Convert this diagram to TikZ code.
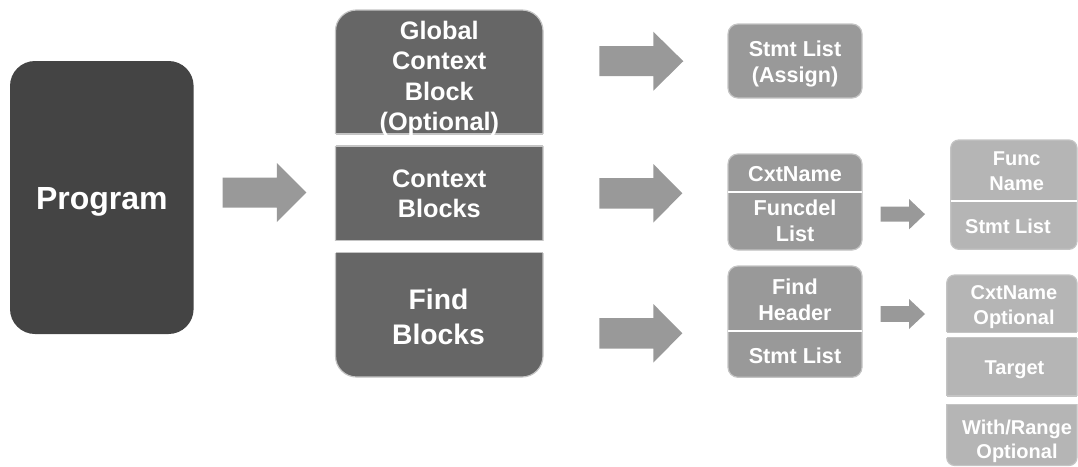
\documentclass[tikz,border=0pt]{standalone}
\usepackage{fontspec}
\setmainfont{Liberation Sans}
\definecolor{progc}{HTML}{444444}
\definecolor{darkc}{HTML}{666666}
\definecolor{midc}{HTML}{999999}
\definecolor{lightc}{HTML}{B5B5B5}
\definecolor{bordc}{HTML}{C4C4C4}
\definecolor{arrowc}{HTML}{999999}
% x0, xh, xt, yc, half shaft, half head
\newcommand\blockarrow[6]{%
  \fill[arrowc] (#1,#4-#5) -- (#2,#4-#5) -- (#2,#4-#6) -- (#3,#4) -- (#2,#4+#6) -- (#2,#4+#5) -- (#1,#4+#5) -- cycle;}
\begin{document}
\begin{tikzpicture}[x=1pt,y=-1pt,
  txt/.style={text=white, align=center, inner sep=0pt},
  fprog/.style={font=\bfseries\fontsize{32}{36}\selectfont},
  fleft/.style={font=\bfseries\fontsize{25.3}{30.5}\selectfont},
  ffind/.style={font=\bfseries\fontsize{28.3}{35}\selectfont},
  fmid/.style={font=\bfseries\fontsize{21.6}{26}\selectfont},
  fright/.style={font=\bfseries\fontsize{20}{24.6}\selectfont},
  boxborder/.style={draw=bordc, line width=1.2pt},
  sep/.style={draw=white, line width=2.2pt},
  gap/.style={fill=white}]
\useasboundingbox (0,0) rectangle (1078,466);
\clip (0,0) rectangle (1078,466);

% Program
\fill[progc, rounded corners=25pt] (10,61) rectangle (193.6,334);
\node[txt, fprog] (program) at (101.8,202) {Program};

% arrow Program -> blocks
\blockarrow{222.5}{276.8}{306.4}{192.5}{15}{29.5}

% left column: one rounded box split by white gaps
\filldraw[fill=darkc, boxborder, rounded corners=21pt] (335.5,10) rectangle (543,377);
\fill[gap] (330,134) rectangle (550,146);
\fill[gap] (330,240.7) rectangle (550,252.7);
\draw[bordc, line width=1.2pt] (335.5,134) -- (543,134) (335.5,146) -- (543,146)
  (335.5,240.7) -- (543,240.7) (335.5,252.7) -- (543,252.7);
\node[txt, fleft] (global) at (439.3,78.5) {Global\\Context\\Block\\(Optional)};
\node[txt, fleft] (context) at (439.3,194) {Context\\Blocks};
\node[txt, ffind] (find) at (438.5,316.5) {Find\\Blocks};

% arrows to middle column
\blockarrow{599.3}{653.3}{683.3}{61.2}{15}{29.5}
\blockarrow{599.3}{653.3}{682.3}{193.3}{15.3}{29.3}
\blockarrow{599.3}{653.3}{682.3}{333.3}{15.3}{29.3}

% middle column
\filldraw[fill=midc, boxborder, rounded corners=10pt] (728,24) rectangle (862,98);
\node[txt, fmid] (assign) at (795,64) {Stmt List\\(Assign)};

\filldraw[fill=midc, boxborder, rounded corners=10pt] (728,154) rectangle (862,250);
\draw[sep] (728,191.7) -- (862,191.7);
\node[txt, fmid] (cxtname) at (795,174) {CxtName};
\node[txt, fmid] (funcdel) at (795,221) {Funcdel\\List};

\filldraw[fill=midc, boxborder, rounded corners=10pt] (728,266) rectangle (862,377.3);
\draw[sep] (728,331) -- (862,331);
\node[txt, fmid] (findheader) at (795,300) {Find\\Header};
\node[txt, fmid] (findstmt) at (795,356) {Stmt List};

% small arrows
\blockarrow{880.7}{909}{925}{214.2}{7.5}{15.2}
\blockarrow{880.7}{909}{925}{314}{7.8}{15}

% right column
\filldraw[fill=lightc, boxborder, rounded corners=8pt] (950.7,140) rectangle (1077,249.3);
\draw[sep] (950.7,200.7) -- (1077,200.7);
\node[txt, fright] (funcname) at (1016.7,171) {Func\\Name};
\node[txt, fright] (funcstmt) at (1008,226.7) {Stmt List};

\filldraw[fill=lightc, boxborder, rounded corners=8pt] (946.7,275) rectangle (1077,465.5);
\fill[gap] (940,332.3) rectangle (1080,337.7);
\fill[gap] (940,396) rectangle (1080,404.3);
\draw[bordc, line width=1.2pt] (946.7,332.3) -- (1077,332.3) (946.7,337.7) -- (1077,337.7)
  (946.7,396) -- (1077,396) (946.7,404.3) -- (1077,404.3);
\node[txt, fright] (cxtopt) at (1014,307) {CxtName\\Optional};
\node[txt, fright] (target) at (1014.5,369.7) {Target};
\node[txt, fright] (withrange) at (1017,441.5) {With/Range\\Optional};
\end{tikzpicture}
\end{document}
